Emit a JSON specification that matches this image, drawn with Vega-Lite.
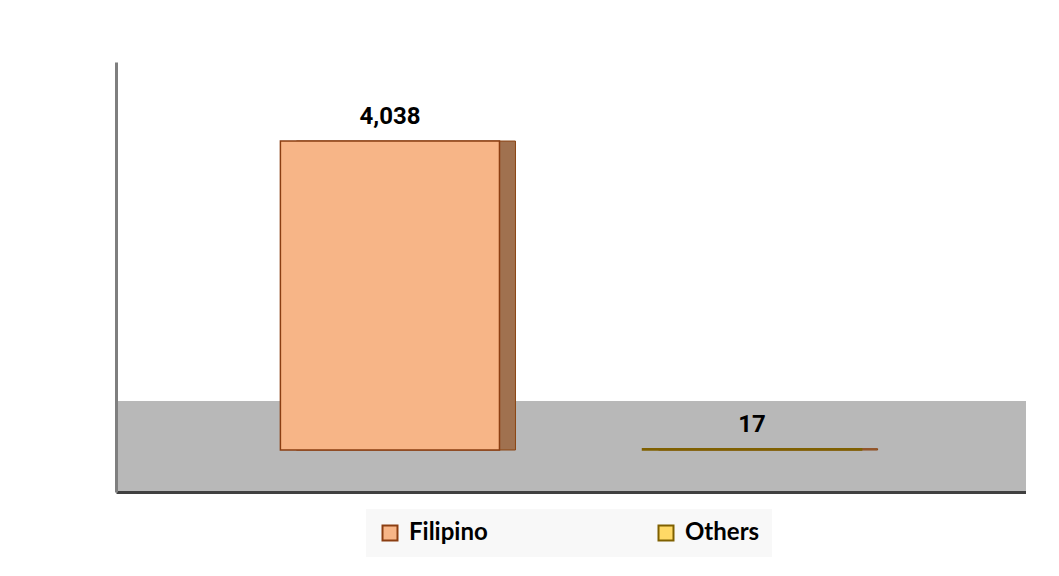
{
  "$schema": "https://vega.github.io/schema/vega-lite/v6.json",
  "width": 910,
  "height": 430,
  "autosize": {"type": "pad"},
  "padding": {"left": 116, "top": 62, "right": 0, "bottom": 0},
  "background": "white",
  "data": {"values": [
    {"nationality": "Filipino", "count": 4038},
    {"nationality": "Others", "count": 17}
  ]},
  "layer": [
    {
      "mark": {"type": "rect", "color": "#B8B8B8"},
      "encoding": {
        "y": {"datum": -549, "type": "quantitative", "scale": {"domain": [-549, 5071], "nice": false, "zero": false},
              "axis": {"labels": false, "ticks": false, "grid": false, "title": null, "domainColor": "#7F7F7F", "domainWidth": 3, "zindex": 1}},
        "y2": {"datum": 640}
      }
    },
    {
      "mark": {"type": "bar", "xOffset": 16, "color": "#A0714F", "stroke": "#8B4513", "strokeWidth": 1},
      "encoding": {
        "x": {"field": "nationality", "type": "nominal", "sort": null,
              "scale": {"paddingInner": 0.395, "paddingOuter": 0.454},
              "axis": {"labels": false, "ticks": false, "title": null, "domainColor": "#404040", "domainWidth": 3, "zindex": 1}},
        "y": {"field": "count", "type": "quantitative"}
      }
    },
    {
      "mark": {"type": "bar", "strokeWidth": 1.5},
      "encoding": {
        "x": {"field": "nationality", "type": "nominal", "sort": null},
        "y": {"field": "count", "type": "quantitative"},
        "fill": {"field": "nationality", "type": "nominal",
                 "scale": {"domain": ["Filipino", "Others"], "range": ["#F7B587", "#FFD966"]},
                 "legend": {"orient": "none", "legendX": 250, "legendY": 447, "direction": "horizontal", "title": null}},
        "stroke": {"field": "nationality", "type": "nominal",
                   "scale": {"domain": ["Filipino", "Others"], "range": ["#8B3E12", "#7F6000"]},
                   "legend": {"orient": "none", "legendX": 250, "legendY": 447, "direction": "horizontal", "title": null}}
      }
    },
    {
      "mark": {"type": "text", "font": "Roboto", "fontSize": 24, "fontWeight": "bold", "color": "black", "baseline": "alphabetic", "dy": -17},
      "encoding": {
        "x": {"field": "nationality", "type": "nominal", "sort": null},
        "y": {"field": "count", "type": "quantitative"},
        "text": {"field": "count", "type": "quantitative", "format": ","}
      }
    }
  ],
  "resolve": {"legend": {"fill": "shared", "stroke": "shared"}},
  "config": {
    "view": {"stroke": null},
    "legend": {
      "symbolType": "square",
      "symbolSize": 225,
      "symbolStrokeWidth": 2,
      "labelFont": "Lato",
      "labelFontSize": 24,
      "labelFontWeight": "bold",
      "labelColor": "black",
      "columnPadding": 166,
      "labelOffset": 7,
      "fillColor": "#F8F8F8",
      "padding": 12
    }
  }
}
